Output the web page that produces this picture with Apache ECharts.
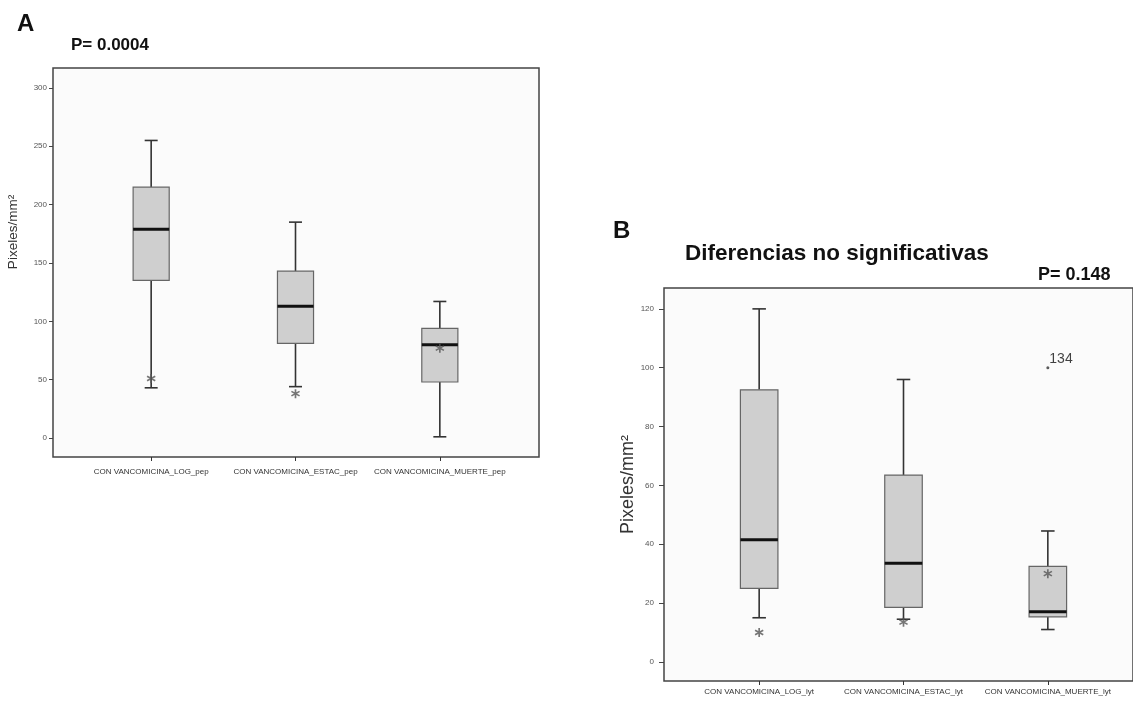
<!DOCTYPE html>
<html>
<head>
<meta charset="utf-8">
<script src="https://cdn.jsdelivr.net/npm/echarts@6/dist/echarts.min.js"></script>
<style>
  html, body { margin: 0; padding: 0; background: #fff; }
  #main { width: 1133px; height: 702px; }
</style>
</head>
<body>
<div id="main"></div>
<script>
// categorias de cada panel
var catsA = ['CON VANCOMICINA_LOG_pep', 'CON VANCOMICINA_ESTAC_pep', 'CON VANCOMICINA_MUERTE_pep'];
var catsB = ['CON VANCOMICINA_LOG_lyt', 'CON VANCOMICINA_ESTAC_lyt', 'CON VANCOMICINA_MUERTE_lyt'];

// cajas: [min, Q1, mediana, Q3, max]
var boxA = [[43, 135, 179, 215, 255], [44, 81, 113, 143, 185], [1, 48, 80, 94, 117]];
var boxB = [[15, 25, 41.5, 92.5, 120], [14.5, 18.5, 33.5, 63.5, 96], [11, 15.3, 17, 32.5, 44.5]];

// valores atipicos (asteriscos) [categoria, valor]
var outA = [[0, 51], [1, 38], [2, 77]];
var outB = [[0, 10], [1, 13.5], [2, 30]];
var extremeB = [[2, 100, '134']];

// marcas de los ejes Y
var yTicksA = [0, 50, 100, 150, 200, 250, 300];
var yTicksB = [0, 20, 40, 60, 80, 100, 120];

var FONT = 'Arial, "Liberation Sans", sans-serif';
var ASTER = 'path://M-0.9,-5L0.9,-5L0.9,5L-0.9,5Z M3.88,-3.28L4.78,-1.72L-3.88,3.28L-4.78,1.72Z M4.78,1.72L3.88,3.28L-4.78,-1.72L-3.88,-3.28Z';

function boxRenderer(widthRatio) {
  return function (params, api) {
    var i = api.value(0);
    var lo = api.coord([i, api.value(1)]);
    var q1 = api.coord([i, api.value(2)]);
    var md = api.coord([i, api.value(3)]);
    var q3 = api.coord([i, api.value(4)]);
    var hi = api.coord([i, api.value(5)]);
    var half = api.size([1, 0])[0] * widthRatio / 2;
    var cap = half * 0.36;
    var cx = md[0];
    var wStyle = { stroke: '#333', lineWidth: 1.6 };
    return {
      type: 'group',
      children: [
        { type: 'line', shape: { x1: cx, y1: lo[1], x2: cx, y2: q1[1] }, style: wStyle },
        { type: 'line', shape: { x1: cx, y1: q3[1], x2: cx, y2: hi[1] }, style: wStyle },
        { type: 'line', shape: { x1: cx - cap, y1: lo[1], x2: cx + cap, y2: lo[1] }, style: wStyle },
        { type: 'line', shape: { x1: cx - cap, y1: hi[1], x2: cx + cap, y2: hi[1] }, style: wStyle },
        { type: 'rect', shape: { x: cx - half, y: q3[1], width: half * 2, height: q1[1] - q3[1] },
          style: { fill: '#cfcfcf', stroke: '#666', lineWidth: 1.2 } },
        { type: 'line', shape: { x1: cx - half, y1: md[1], x2: cx + half, y2: md[1] },
          style: { stroke: '#111', lineWidth: 3 } }
      ]
    };
  };
}

function toRows(boxes) {
  return boxes.map(function (d, i) { return [i].concat(d); });
}

var chart = echarts.init(document.getElementById('main'));

var hiddenX = function (g) { return { gridIndex: g, type: 'value', show: false, min: 0, max: 1 }; };
var hiddenY = function (g) { return { gridIndex: g, type: 'value', show: false, min: 0, max: 1 }; };

var option = {
  animation: false,
  backgroundColor: '#fff',
  textStyle: { fontFamily: FONT },
  title: [
    { text: 'A', left: 12, top: 7, textStyle: { fontSize: 24, fontWeight: 'bold', color: '#111', fontFamily: FONT } },
    { text: 'P= 0.0004', left: 66, top: 32, textStyle: { fontSize: 17, fontWeight: 'bold', color: '#111', fontFamily: FONT } },
    { text: 'B', left: 608, top: 214, textStyle: { fontSize: 24, fontWeight: 'bold', color: '#111', fontFamily: FONT } },
    { text: 'Diferencias no significativas', left: 680, top: 237, textStyle: { fontSize: 22.5, fontWeight: 'bold', color: '#111', fontFamily: FONT } },
    { text: 'P= 0.148', left: 1033, top: 261, textStyle: { fontSize: 18, fontWeight: 'bold', color: '#111', fontFamily: FONT } }
  ],
  graphic: [
    { type: 'text', x: 13, y: 232, rotation: Math.PI / 2,
      style: { text: 'Pixeles/mm²', fontSize: 13.5, fill: '#333', fontFamily: FONT, align: 'center', verticalAlign: 'middle' } }
  ],
  grid: [
    // marco A
    { left: 53, top: 68, width: 486, height: 389, show: true, borderColor: '#444', borderWidth: 1.5, backgroundColor: '#fbfbfb' },
    // datos A
    { left: 79, top: 68, width: 433, height: 389 },
    // marco B
    { left: 664, top: 288, width: 480, height: 393, show: true, borderColor: '#444', borderWidth: 1.5, backgroundColor: '#fbfbfb' },
    // datos B
    { left: 687, top: 288, width: 433, height: 393 }
  ],
  xAxis: [
    hiddenX(0),
    { gridIndex: 1, type: 'category', data: catsA,
      axisLine: { show: false, onZero: false },
      axisTick: { show: true, alignWithLabel: true, length: 4, lineStyle: { color: '#333' } },
      axisLabel: { interval: 0, fontSize: 8, color: '#333', margin: 11, fontFamily: FONT } },
    hiddenX(2),
    { gridIndex: 3, type: 'category', data: catsB,
      axisLine: { show: false, onZero: false },
      axisTick: { show: true, alignWithLabel: true, length: 4, lineStyle: { color: '#333' } },
      axisLabel: { interval: 0, fontSize: 8, color: '#333', margin: 7, fontFamily: FONT } }
  ],
  yAxis: [
    hiddenY(0),
    { gridIndex: 1, type: 'value', min: -16.3, max: 317.1, offset: 26,
      axisLine: { show: false },
      axisTick: { show: true, length: 4, customValues: yTicksA, lineStyle: { color: '#444' } },
      splitLine: { show: false },
      axisLabel: { customValues: yTicksA, fontSize: 8, color: '#555', margin: 6, fontFamily: FONT } },
    hiddenY(2),
    { gridIndex: 3, type: 'value', min: -6.5, max: 127.1, offset: 23,
      name: 'Pixeles/mm²', nameLocation: 'middle', nameGap: 26,
      nameTextStyle: { fontSize: 18, color: '#333', fontFamily: FONT },
      axisLine: { show: false },
      axisTick: { show: true, length: 5, customValues: yTicksB, lineStyle: { color: '#444' } },
      splitLine: { show: false },
      axisLabel: { customValues: yTicksB, fontSize: 8, color: '#555', margin: 10, fontFamily: FONT } }
  ],
  series: [
    { type: 'custom', xAxisIndex: 1, yAxisIndex: 1, data: toRows(boxA),
      encode: { x: 0, y: [1, 2, 3, 4, 5] }, renderItem: boxRenderer(0.25), z: 2 },
    { type: 'scatter', xAxisIndex: 1, yAxisIndex: 1, data: outA,
      symbol: ASTER, symbolSize: 9, itemStyle: { color: '#555' }, z: 3 },
    { type: 'custom', xAxisIndex: 3, yAxisIndex: 3, data: toRows(boxB),
      encode: { x: 0, y: [1, 2, 3, 4, 5] }, renderItem: boxRenderer(0.26), z: 2 },
    { type: 'scatter', xAxisIndex: 3, yAxisIndex: 3, data: outB,
      symbol: ASTER, symbolSize: 9, itemStyle: { color: '#555' }, z: 3 },
    { type: 'scatter', xAxisIndex: 3, yAxisIndex: 3, data: extremeB,
      symbol: 'circle', symbolSize: 3, itemStyle: { color: '#333' }, z: 3,
      label: { show: true, position: [3, -14], formatter: function (p) { return p.value[2]; },
        fontSize: 14, color: '#111', fontFamily: FONT } }
  ]
};

chart.setOption(option);
</script>
</body>
</html>
